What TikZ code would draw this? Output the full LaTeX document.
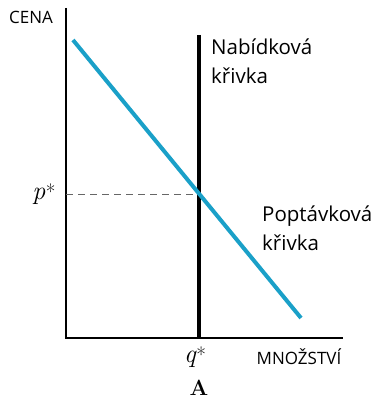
\documentclass[tikz,border=0pt]{standalone}
\usepackage{fontspec}
\setsansfont{Open Sans}
\definecolor{demand}{HTML}{1AA0C8}
\newcommand{\eqlabel}[1]{{\itshape #1}\kern0.5pt{\fontsize{21}{21}\selectfont *}}
\begin{document}
\begin{tikzpicture}[x=1pt,y=-1pt,
  lbl/.style={font=\sffamily\fontsize{20.5}{29}\selectfont, anchor=west, align=left, inner sep=0pt},
  axlbl/.style={font=\sffamily\fontsize{17}{19}\selectfont, inner sep=0pt},
  mathlbl/.style={font=\rmfamily\fontsize{26}{28}\selectfont, inner sep=0pt}]
\useasboundingbox (0,0) rectangle (376,401);
\coordinate (top) at (66,8);
\coordinate (orig) at (66,338);
\coordinate (xend) at (343,338);
\coordinate (stop) at (199,35);
\coordinate (sbot) at (199,338);
\coordinate (dstart) at (73,40);
\coordinate (dend) at (301,318);
\coordinate (eq) at (199,194);
\coordinate (peq) at (66,194);
\draw[line width=2.2pt] (top) -- (orig) -- (xend);
\draw[line width=3.6pt] (stop) -- (sbot);
\draw[dashed, gray!80!black, line width=1pt, dash pattern=on 7pt off 5pt] (peq) -- (eq);
\draw[demand, line width=4pt] (dstart) -- (dend);
\node[axlbl] (cena) at (31,17) {CENA};
\node[axlbl] (mnoz) at (299,357) {MNOŽSTVÍ};
\node[lbl] (nab) at (211,61) {Nabídková\\křivka};
\node[lbl] (pop) at (262,228) {Poptávková\\křivka};
\node[mathlbl] (p) at (44,194) {\eqlabel{p}};
\node[mathlbl] (q) at (195,357) {\eqlabel{q}};
\node[font=\bfseries\fontsize{22}{24}\selectfont, inner sep=0pt] (a) at (199,388) {A};
\end{tikzpicture}
\end{document}
